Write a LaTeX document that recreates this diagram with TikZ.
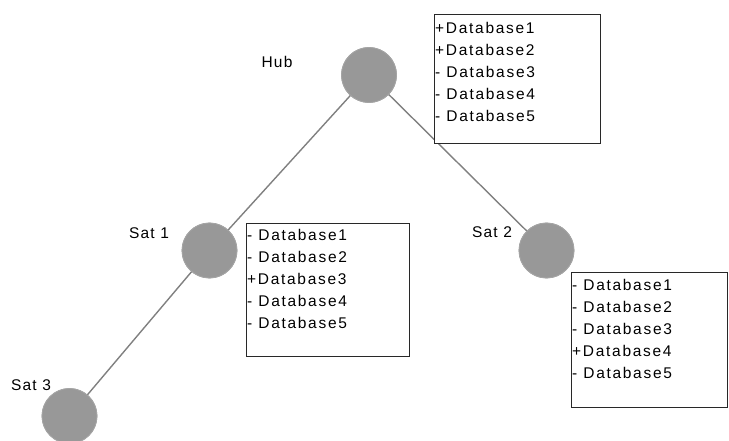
\documentclass[tikz,border=0pt]{standalone}
\usepackage{fontspec}
\setmainfont{Liberation Sans}[LetterSpace=8]
\newfontfamily\listfont{Liberation Sans}[LetterSpace=11]
\definecolor{linkgray}{RGB}{128,128,128}
\definecolor{sitefill}{RGB}{152,152,152}
\definecolor{siteedge}{RGB}{165,165,165}
\definecolor{boxedge}{RGB}{40,40,40}
\begin{document}
\begin{tikzpicture}[x=1pt,y=-1pt,
  site/.style={circle, fill=sitefill, draw=siteedge, line width=0.8pt, minimum size=55pt, inner sep=0pt},
  sitelabel/.style={font=\fontsize{15.5}{18}\selectfont, inner sep=0pt},
  link/.style={draw=linkgray, line width=1.4pt},
  dbbox/.style={draw=boxedge, line width=1.3pt, anchor=north west, inner sep=0pt, fill=white},
  dblist/.style={anchor=north west, inner sep=0pt, align=left, font=\listfont\fontsize{15.5}{22}\selectfont}]
\useasboundingbox (0,0) rectangle (729,441);

% sites
\node[site] (hub) at (369,75) {};
\node[site] (sat1) at (209.5,250.5) {};
\node[site] (sat2) at (546.5,250.5) {};
\node[site] (sat3) at (69.5,416) {};

% links between sites, then the circles again on top
\path[link] (hub.center) -- (sat1.center);
\path[link] (hub.center) -- (sat2.center);
\path[link] (sat1.center) -- (sat3.center);
\node[site] at (hub) {};
\node[site] at (sat1) {};
\node[site] at (sat2) {};
\node[site] at (sat3) {};

% site names
\node[sitelabel] (hublbl) at (277,62) {Hub};
\node[sitelabel] (sat1lbl) at (149,233) {Sat 1};
\node[sitelabel] (sat2lbl) at (492,232) {Sat 2};
\node[sitelabel] (sat3lbl) at (31,385) {Sat 3};

% database state boxes
\node[dbbox, minimum width=166pt, minimum height=129pt] (hubbox) at (434,14) {};
\node[dblist] (hublist) at ([xshift=1pt,yshift=-8.5pt]hubbox.north west)
  {+Database1\\+Database2\\- Database3\\- Database4\\- Database5};

\node[dbbox, minimum width=163pt, minimum height=133pt] (sat1box) at (246,223) {};
\node[dblist] (sat1list) at ([xshift=1pt,yshift=-6pt]sat1box.north west)
  {- Database1\\- Database2\\+Database3\\- Database4\\- Database5};

\node[dbbox, minimum width=156pt, minimum height=135pt] (sat2box) at (571,272) {};
\node[dblist] (sat2list) at ([xshift=1pt,yshift=-7.5pt]sat2box.north west)
  {- Database1\\- Database2\\- Database3\\+Database4\\- Database5};
\end{tikzpicture}
\end{document}
